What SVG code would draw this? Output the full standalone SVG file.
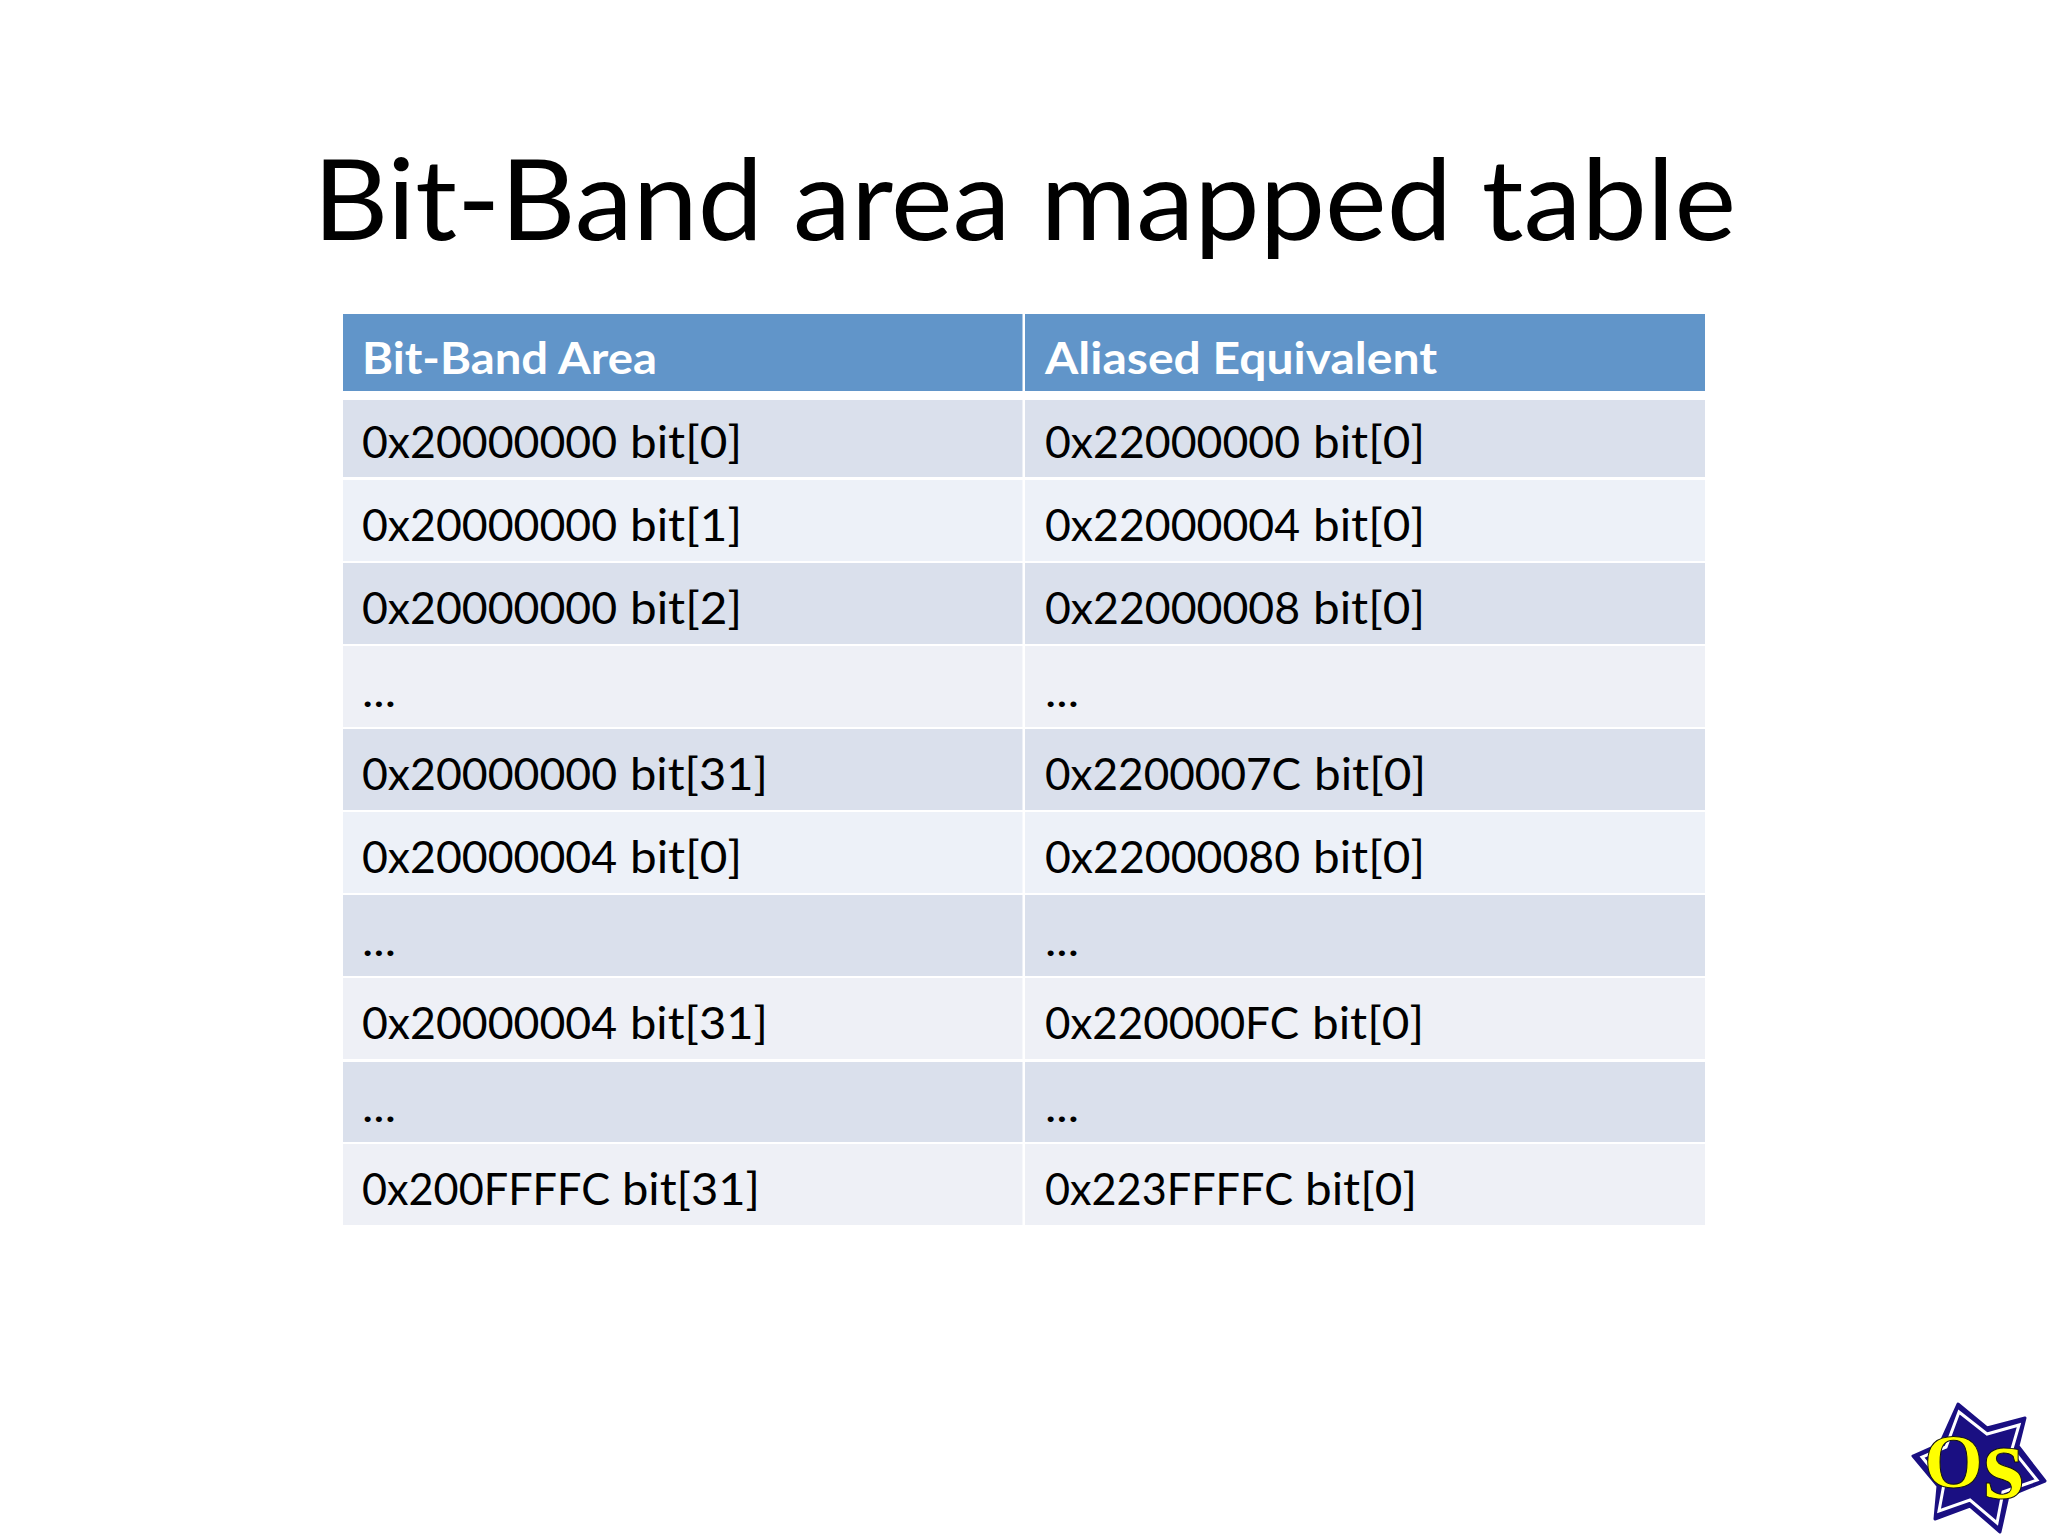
<svg xmlns="http://www.w3.org/2000/svg" width="2048" height="1536" viewBox="0 0 2048 1536">
<style>
text{font-family:"Lato","Open Sans",sans-serif}
.c{font-size:45px;fill:#000}
.h{font-size:44px;font-weight:700;fill:#fff}
.d{fill:#DAE0EC}.l{fill:#EDF1F8}.m{fill:#EEF0F6}
</style>
<rect width="2048" height="1536" fill="#fff"/>
<text id="title" x="313" y="240" font-size="113" fill="#000" textLength="1423" lengthAdjust="spacingAndGlyphs">Bit-Band area mapped table</text>
<g id="table">
<rect x="343" y="314" width="1362" height="77" fill="#6195C9"/>
<rect class="d" x="343" y="400" width="1362" height="77"/>
<rect class="l" x="343" y="480" width="1362" height="81"/>
<rect class="d" x="343" y="563" width="1362" height="81"/>
<rect class="m" x="343" y="646" width="1362" height="81"/>
<rect class="d" x="343" y="729" width="1362" height="81"/>
<rect class="l" x="343" y="812" width="1362" height="81"/>
<rect class="d" x="343" y="895" width="1362" height="81"/>
<rect class="m" x="343" y="978" width="1362" height="81"/>
<rect class="d" x="343" y="1062" width="1362" height="80"/>
<rect class="m" x="343" y="1144" width="1362" height="81"/>
<rect x="1022.5" y="314" width="2.5" height="911" fill="#fff"/>
<text class="h" x="362" y="374" textLength="295" lengthAdjust="spacingAndGlyphs">Bit-Band Area</text>
<text class="h" x="1045" y="374" textLength="392" lengthAdjust="spacingAndGlyphs">Aliased Equivalent</text>
<text class="c" y="458"><tspan x="362" textLength="255" lengthAdjust="spacingAndGlyphs">0x20000000</tspan> <tspan x="630" textLength="112" lengthAdjust="spacingAndGlyphs">bit[0]</tspan></text>
<text class="c" y="458"><tspan x="1045" textLength="255" lengthAdjust="spacingAndGlyphs">0x22000000</tspan> <tspan x="1313" textLength="112" lengthAdjust="spacingAndGlyphs">bit[0]</tspan></text>
<text class="c" y="541"><tspan x="362" textLength="255" lengthAdjust="spacingAndGlyphs">0x20000000</tspan> <tspan x="630" textLength="112" lengthAdjust="spacingAndGlyphs">bit[1]</tspan></text>
<text class="c" y="541"><tspan x="1045" textLength="255" lengthAdjust="spacingAndGlyphs">0x22000004</tspan> <tspan x="1313" textLength="112" lengthAdjust="spacingAndGlyphs">bit[0]</tspan></text>
<text class="c" y="624"><tspan x="362" textLength="255" lengthAdjust="spacingAndGlyphs">0x20000000</tspan> <tspan x="630" textLength="112" lengthAdjust="spacingAndGlyphs">bit[2]</tspan></text>
<text class="c" y="624"><tspan x="1045" textLength="255" lengthAdjust="spacingAndGlyphs">0x22000008</tspan> <tspan x="1313" textLength="112" lengthAdjust="spacingAndGlyphs">bit[0]</tspan></text>
<text class="c" x="362" y="707" textLength="34" lengthAdjust="spacingAndGlyphs">...</text>
<text class="c" x="1045" y="707" textLength="34" lengthAdjust="spacingAndGlyphs">...</text>
<text class="c" y="790"><tspan x="362" textLength="255" lengthAdjust="spacingAndGlyphs">0x20000000</tspan> <tspan x="630" textLength="138" lengthAdjust="spacingAndGlyphs">bit[31]</tspan></text>
<text class="c" y="790"><tspan x="1045" textLength="256" lengthAdjust="spacingAndGlyphs">0x2200007C</tspan> <tspan x="1314" textLength="112" lengthAdjust="spacingAndGlyphs">bit[0]</tspan></text>
<text class="c" y="873"><tspan x="362" textLength="255" lengthAdjust="spacingAndGlyphs">0x20000004</tspan> <tspan x="630" textLength="112" lengthAdjust="spacingAndGlyphs">bit[0]</tspan></text>
<text class="c" y="873"><tspan x="1045" textLength="255" lengthAdjust="spacingAndGlyphs">0x22000080</tspan> <tspan x="1313" textLength="112" lengthAdjust="spacingAndGlyphs">bit[0]</tspan></text>
<text class="c" x="362" y="956" textLength="34" lengthAdjust="spacingAndGlyphs">...</text>
<text class="c" x="1045" y="956" textLength="34" lengthAdjust="spacingAndGlyphs">...</text>
<text class="c" y="1039"><tspan x="362" textLength="255" lengthAdjust="spacingAndGlyphs">0x20000004</tspan> <tspan x="630" textLength="138" lengthAdjust="spacingAndGlyphs">bit[31]</tspan></text>
<text class="c" y="1039"><tspan x="1045" textLength="254" lengthAdjust="spacingAndGlyphs">0x220000FC</tspan> <tspan x="1312" textLength="112" lengthAdjust="spacingAndGlyphs">bit[0]</tspan></text>
<text class="c" x="362" y="1122" textLength="34" lengthAdjust="spacingAndGlyphs">...</text>
<text class="c" x="1045" y="1122" textLength="34" lengthAdjust="spacingAndGlyphs">...</text>
<text class="c" y="1205"><tspan x="362" textLength="248" lengthAdjust="spacingAndGlyphs">0x200FFFFC</tspan> <tspan x="622" textLength="138" lengthAdjust="spacingAndGlyphs">bit[31]</tspan></text>
<text class="c" y="1205"><tspan x="1045" textLength="248" lengthAdjust="spacingAndGlyphs">0x223FFFFC</tspan> <tspan x="1305" textLength="112" lengthAdjust="spacingAndGlyphs">bit[0]</tspan></text>
</g>
<g id="logo">
<polygon points="1958,1404 1987,1428 2025,1418 2018,1446 2045,1481 2008,1496 2000,1532 1970,1506 1935,1519 1938,1486 1913,1456 1940,1444" fill="#1A0F82" stroke="#1A0F82" stroke-width="3" stroke-linejoin="round"/>
<polygon points="1959,1412 1987,1434 2019,1425 2012,1449 2037,1480 2003,1492 1997,1523 1970,1500 1939,1511 1944,1484 1922,1457 1946,1447" fill="none" stroke="#fff" stroke-width="3" stroke-linejoin="miter"/>
<text y="1487" font-weight="700" fill="#FFFF00" stroke="#111" stroke-width="1" style="font-family:'Liberation Serif',serif"><tspan x="1924" font-size="76">O</tspan><tspan x="1983" y="1498" font-size="106">s</tspan></text>
</g>
</svg>
